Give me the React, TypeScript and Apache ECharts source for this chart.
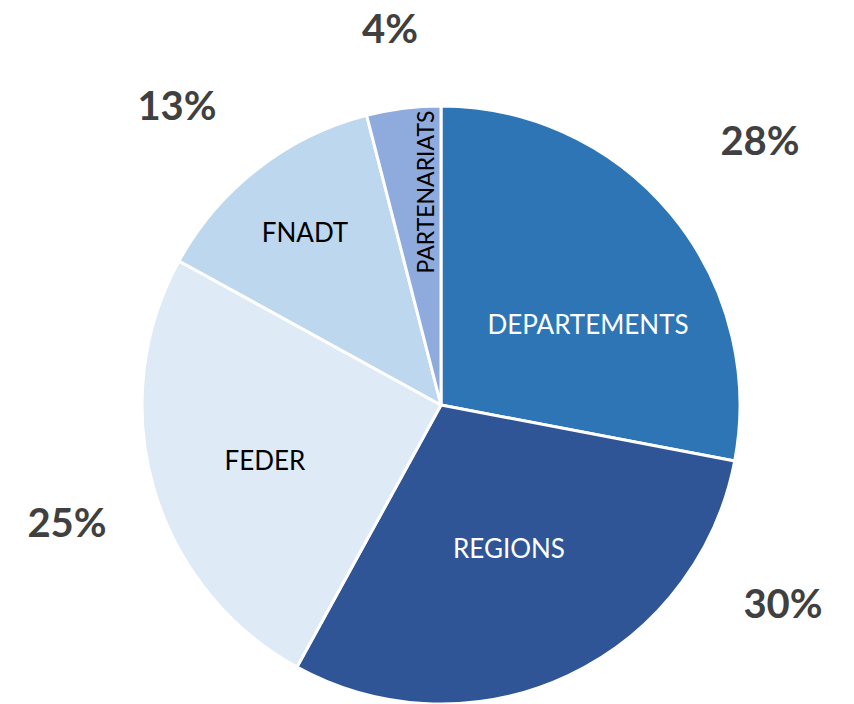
import React, { useEffect, useRef } from "react";
import * as echarts from "echarts";

const categories = ["DEPARTEMENTS", "REGIONS", "FEDER", "FNADT", "PARTENARIATS"];
const values = [28, 30, 25, 13, 4];
const colors = ["#2E75B6", "#2F5597", "#DEEBF7", "#BDD7EE", "#8FAADC"];
const innerTextColors = ["#ffffff", "#ffffff", "#000000", "#000000", "#000000"];

// label placement (layout constants)
const innerLabelPos = [
  [588, 324],
  [509, 548],
  [265, 460],
  [305, 232],
  [425, 192],
];
const outerLabelPos = [
  [760, 140],
  [783, 603],
  [67, 522],
  [177, 105],
  [390, 28],
];

export default function App() {
  const ref = useRef<HTMLDivElement>(null);
  useEffect(() => {
    document.body.style.margin = "0";
    const chart = echarts.init(ref.current!, null, { renderer: "svg" });
    const data = categories.map((c, i) => ({
      name: c,
      value: values[i],
      itemStyle: { color: colors[i] },
      label: {
        color: innerTextColors[i],
        rotate: i === 4 ? 90 : 0,
        fontSize: i === 4 ? 23 : 26,
      },
    }));
    chart.setOption({
      animation: false,
      backgroundColor: "#ffffff",
      series: [
        {
          type: "pie",
          center: [441, 405],
          radius: [0, 299],
          startAngle: 90,
          clockwise: true,
          silent: true,
          itemStyle: { borderColor: "#ffffff", borderWidth: 3 },
          label: {
            show: true,
            position: "inside",
            formatter: "{b}",
            fontFamily: "Lato",
            fontSize: 26,
          },
          labelLine: { show: false },
          labelLayout: (p: any) => ({
            x: innerLabelPos[p.dataIndex][0],
            y: innerLabelPos[p.dataIndex][1],
            align: "center",
            verticalAlign: "middle",
          }),
          data,
        },
        {
          type: "pie",
          center: [441, 405],
          radius: [0, 299],
          startAngle: 90,
          clockwise: true,
          silent: true,
          itemStyle: { color: "transparent", borderWidth: 0 },
          label: {
            show: true,
            position: "inside",
            formatter: "{c}%",
            fontFamily: "Lato",
            fontWeight: "bold",
            fontSize: 40,
            color: "#404040",
          },
          labelLine: { show: false },
          labelLayout: (p: any) => ({
            x: outerLabelPos[p.dataIndex][0],
            y: outerLabelPos[p.dataIndex][1],
            align: "center",
            verticalAlign: "middle",
          }),
          data: categories.map((c, i) => ({ name: c, value: values[i] })),
        },
      ],
    });
    return () => chart.dispose();
  }, []);
  return <div ref={ref} style={{ width: 854, height: 704 }} />;
}
